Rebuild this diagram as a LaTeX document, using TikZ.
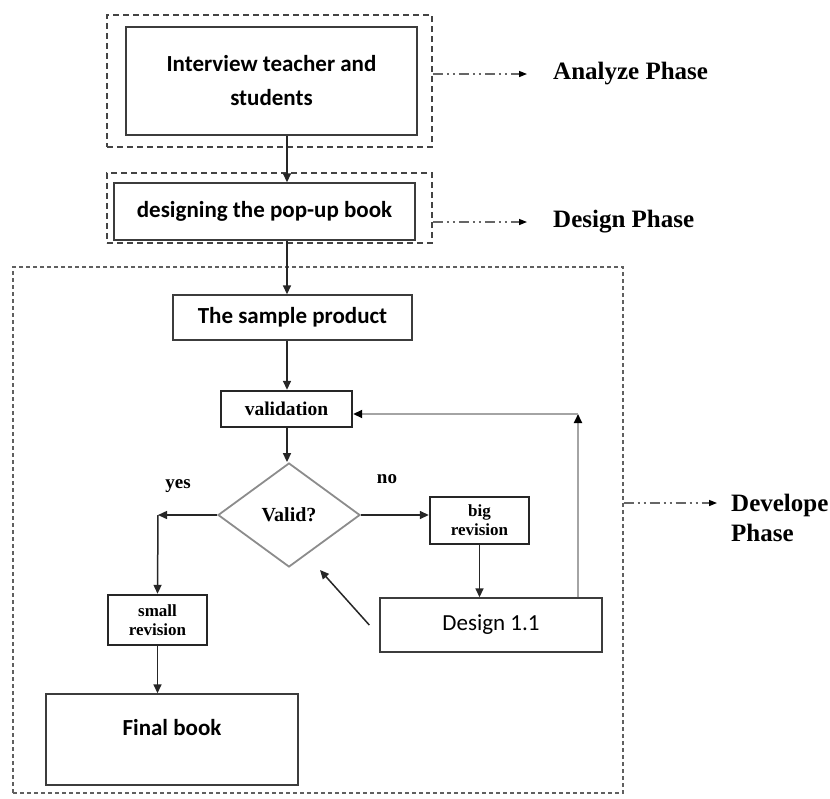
\documentclass[tikz,border=0pt]{standalone}
\usepackage{fontspec}
\setmainfont{Liberation Serif}
\newfontfamily\calfont{Carlito}
\usepackage{xcolor}
\usepackage{tikz}
\usetikzlibrary{positioning,arrows.meta,shapes.geometric}
\definecolor{boxline}{HTML}{3C3C3C}
\definecolor{frameline}{HTML}{444444}
\definecolor{diamline}{HTML}{8C8C8C}
\definecolor{returnline}{HTML}{A4A4A4}

\begin{document}
\begin{tikzpicture}[
    x=1pt, y=-1pt,
    >={Triangle[length=9pt,width=8pt]},
    box/.style={draw=boxline, line width=1.4pt, inner sep=0pt, align=center, font=\calfont\bfseries\fontsize{23}{34}\selectfont},
    revbox/.style={draw=black!85, line width=2.4pt, inner sep=0pt, align=center, font=\bfseries\fontsize{17}{19}\selectfont},
    phaseframe/.style={draw=frameline, line width=1.6pt, dash pattern=on 6pt off 4pt, inner sep=0pt},
    devframe/.style={draw=frameline!85, line width=1.4pt, dash pattern=on 4pt off 3pt, inner sep=0pt},
    decision/.style={diamond, draw=diamline, line width=1.8pt, inner sep=0pt, aspect=1.37, font=\bfseries\fontsize{20}{22}\selectfont},
    answer/.style={font=\bfseries\fontsize{19}{20}\selectfont},
    phase/.style={font=\bfseries\fontsize{25}{30}\selectfont, align=left, inner sep=0pt},
    arrow/.style={->, line width=1.5pt, draw=black!85},
    back/.style={-{Triangle[length=9pt,width=8pt,color=black]}, line width=1.8pt, draw=returnline},
    phasearrow/.style={-{Triangle[length=8pt,width=6pt,color=black]}, line width=1.4pt, draw=black!60, dash pattern=on 10pt off 4pt on 2pt off 4pt on 2pt off 4pt},
]
\useasboundingbox (0,0) rectangle (830,798);
% phase frames
\node[phaseframe, minimum width=325pt, minimum height=132pt] (anaframe) at (269.5,81) {};
\node[phaseframe, minimum width=325pt, minimum height=70pt] (dsgframe) at (269.5,208) {};
\node[devframe, minimum width=610pt, minimum height=526pt] (devbox) at (318,530) {};
% steps
\node[box, minimum width=291pt, minimum height=108pt] (intv) at (271.5,81) {Interview teacher and\\students};
\node[box, minimum width=301pt, minimum height=57pt] (dsgn) at (264.5,211.5) {designing the pop-up book};
\node[box, minimum width=239pt, minimum height=45pt] (sample) at (292.5,317.5) {The sample product};
\node[revbox, minimum width=131pt, minimum height=36pt, font=\bfseries\fontsize{19.5}{20}\selectfont] (valid) at (286.5,409) {validation};
\node[decision, minimum width=142pt, minimum height=104pt] (check) at (289,515) {Valid?};
\node[answer] (yes) at (178,486) {yes};
\node[answer] (no) at (387,479) {no};
\node[revbox, minimum width=99pt, minimum height=47pt] (bigrev) at (479.5,520.5) {big\\revision};
\node[revbox, minimum width=99pt, minimum height=50pt] (smallrev) at (157.5,620) {small\\revision};
\node[box, font=\calfont\fontsize{23}{28}\selectfont, minimum width=222pt, minimum height=54pt] (redesign) at (491,625) {Design 1.1};
\node[box, minimum width=252pt, minimum height=91pt, text depth=24pt] (final) at (172,739.5) {Final book};
% phase names
\node[phase, anchor=west] (analyze) at (553,74) {Analyze Phase};
\node[phase, anchor=west] (design) at (553,222) {Design Phase};
\node[phase, anchor=base west] (develop) at (731,541) {Develope\\Phase};
\coordinate (spine) at (287,0);
\coordinate (yesturn) at (158,515);
\coordinate (backturn) at (578,414);
\coordinate (hint) at (320,570);
\coordinate (devtip) at (717,503);
% main flow
\draw[arrow] (intv.south -| spine) -- (dsgn.north -| spine);
\draw[arrow] (dsgn.south -| spine) -- (sample.north -| spine);
\draw[arrow] (sample.south -| spine) -- (valid.north -| spine);
\draw[arrow] (valid.south -| spine) -- (check.north -| spine);
\draw[arrow] (check.east) -- (check.east -| bigrev.west);
\draw[arrow] (bigrev.south) -- (bigrev.south |- redesign.north);
\draw[arrow] (check.west) -- (yesturn);
\draw[arrow] (yesturn) -- (smallrev.north);
\draw[arrow] (smallrev.south) -- (smallrev.south |- final.north);
\draw[arrow] ([xshift=-10pt]redesign.west) -- (hint);
% back to validation
\draw[back] (redesign.north -| backturn) -- (backturn);
\draw[back] (backturn) -- (backturn -| valid.east);
% phase pointers
\draw[phasearrow] (anaframe.east |- analyze.west) -- ([xshift=-26pt]analyze.west);
\draw[phasearrow] (dsgframe.east |- design.west) -- ([xshift=-26pt]design.west);
\draw[phasearrow] (devbox.east |- devtip) -- (devtip);
\end{tikzpicture}
\end{document}
